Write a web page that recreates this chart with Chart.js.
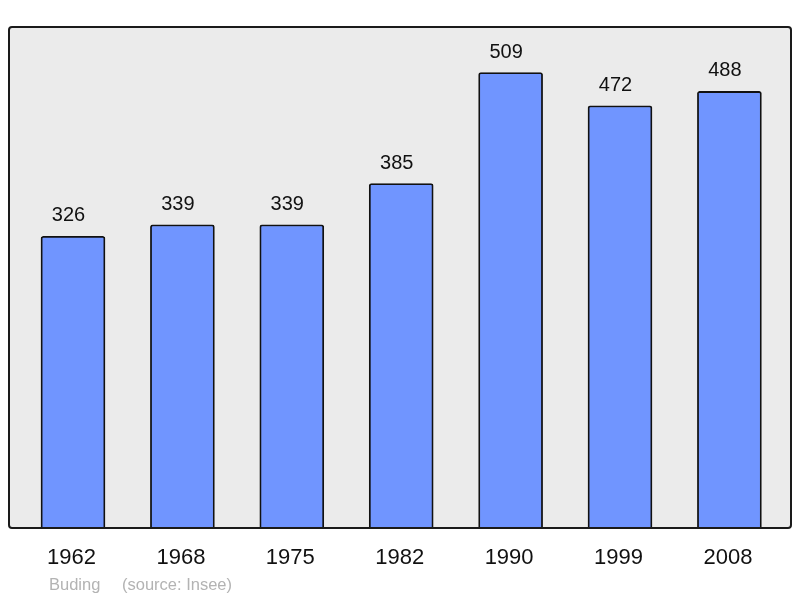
<!DOCTYPE html>
<html><head><meta charset="utf-8">
<script src="https://cdn.jsdelivr.net/npm/chart.js@4"></script>
<style>html,body{margin:0;padding:0;background:#fff}#w{width:800px;height:598px}</style>
</head><body><div id="w"><canvas id="c" width="800" height="598"></canvas></div>
<script>
const categories = ["1962","1968","1975","1982","1990","1999","2008"];
const population = [326,339,339,385,509,472,488];
const footerName = "Buding";
const footerSource = "(source: Insee)";

const FONT = '"Liberation Sans", Arial, sans-serif';

const decor = {
  id: 'decor',
  beforeDraw(chart) {
    const {ctx, chartArea: a} = chart;
    ctx.save();
    ctx.beginPath();
    ctx.roundRect(a.left, a.top, a.right - a.left, a.bottom - a.top, 3);
    ctx.fillStyle = '#ebebeb';
    ctx.fill();
    ctx.restore();
  },
  afterDatasetsDraw(chart) {
    const {ctx, chartArea: a, scales} = chart;
    ctx.save();
    ctx.beginPath();
    ctx.roundRect(a.left, a.top, a.right - a.left, a.bottom - a.top, 3);
    ctx.lineWidth = 2;
    ctx.strokeStyle = '#1a1a1a';
    ctx.stroke();
    ctx.fillStyle = '#111';
    ctx.textAlign = 'center';
    ctx.textBaseline = 'middle';
    ctx.font = '20px ' + FONT;
    population.forEach((v, i) => {
      const x = scales.x.getPixelForValue(i);
      const y = scales.y.getPixelForValue(v);
      ctx.fillText(String(v), x - 4.5, y - 20.5);
    });
    ctx.font = '22px ' + FONT;
    categories.forEach((c, i) => {
      ctx.fillText(c, scales.x.getPixelForValue(i) - 1.5, 558);
    });
    ctx.font = '16.5px ' + FONT;
    ctx.fillStyle = '#b3b3b3';
    ctx.textAlign = 'left';
    ctx.fillText(footerName, 49, 585);
    ctx.fillText(footerSource, 122, 585);
    ctx.restore();
  }
};

new Chart(document.getElementById('c'), {
  type: 'bar',
  data: {
    labels: categories,
    datasets: [{
      data: population.map((v, i) => ({x: i, y: v})),
      backgroundColor: '#7095ff',
      borderColor: '#111',
      borderWidth: 1.8,
      borderSkipped: 'bottom',
      borderRadius: {topLeft: 2.5, topRight: 2.5, bottomLeft: 0, bottomRight: 0},
      barThickness: 64
    }]
  },
  options: {
    responsive: false,
    animation: false,
    devicePixelRatio: 1,
    layout: {padding: {left: 9, right: 9, top: 27, bottom: 70}},
    plugins: {legend: {display: false}, tooltip: {enabled: false}},
    scales: {
      x: {type: 'linear', display: false, offset: false, min: -0.585, max: 6.563},
      y: {display: false, min: 0, max: 560}
    }
  },
  plugins: [decor]
});
</script>
</body></html>
